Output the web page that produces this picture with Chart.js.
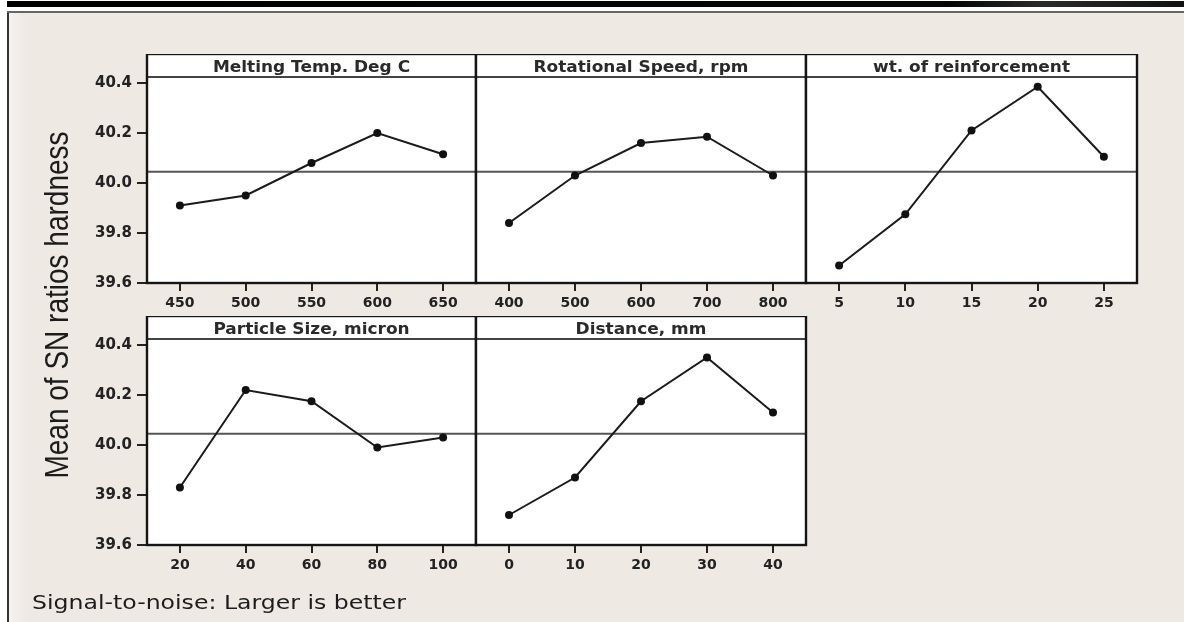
<!DOCTYPE html>
<html>
<head>
<meta charset="utf-8">
<script src="https://cdn.jsdelivr.net/npm/chart.js@4.4.1/dist/chart.umd.min.js"></script>
<style>
    html, body { margin: 0; padding: 0; background: #fff; }
    body { width: 1184px; height: 622px; position: relative; overflow: hidden; }
    canvas { position: absolute; }
</style>
</head>
<body>
<canvas id="back" width="1184" height="622" style="left:0;top:0"></canvas>
<canvas id="panel-0"></canvas>
<canvas id="panel-1"></canvas>
<canvas id="panel-2"></canvas>
<canvas id="panel-3"></canvas>
<canvas id="panel-4"></canvas>
<script>
// values (mean of SN ratios)
const panelTitles = ['Melting Temp. Deg C', 'Rotational Speed, rpm', 'wt. of reinforcement', 'Particle Size, micron', 'Distance, mm'];

const meltingTemp = ['450', '500', '550', '600', '650'];
const meltingTempSN = [39.91, 39.95, 40.08, 40.20, 40.115];

const rotSpeed = ['400', '500', '600', '700', '800'];
const rotSpeedSN = [39.84, 40.03, 40.16, 40.185, 40.03];

const reinforcement = ['5', '10', '15', '20', '25'];
const reinforcementSN = [39.67, 39.875, 40.21, 40.385, 40.105];

const particleSize = ['20', '40', '60', '80', '100'];
const particleSizeSN = [39.83, 40.22, 40.175, 39.99, 40.03];

const distance = ['0', '10', '20', '30', '40'];
const distanceSN = [39.72, 39.87, 40.175, 40.35, 40.13];

const yTicks = [39.6, 39.8, 40.0, 40.2, 40.4];
const grandMean = 40.045;

const yAxisTitle = 'Mean of SN ratios hardness';
const footNote = 'Signal-to-noise: Larger is better';

// layout
const colEdges = [147, 476, 806, 1137];
const rowTops = [54, 316];
const HEADER_H = 23, AREA_H = 206, XAXIS_H = 36, YAXIS_W = 67, PAD = 2;
const Y_MIN = 39.6, Y_MAX = 40.424;
const INK = '#222';

Chart.defaults.font.family = '"DejaVu Sans", sans-serif';

function draw_background() {
    const ctx = document.getElementById('back').getContext('2d');
    ctx.fillStyle = '#fff';
    ctx.fillRect(0, 0, 1184, 622);

    // black rule at the top
    let g = ctx.createLinearGradient(7, 0, 1184, 0);
    g.addColorStop(0, '#000');
    g.addColorStop(0.8, '#050505');
    g.addColorStop(0.88, '#2a2a2a');
    g.addColorStop(1, '#111');
    ctx.fillStyle = g;
    ctx.fillRect(7, 1, 1177, 6);

    // beige frame
    ctx.fillStyle = '#EFE9E3';
    ctx.fillRect(9, 13, 1175, 609);
    g = ctx.createLinearGradient(9, 0, 32, 0);
    g.addColorStop(0, '#F6F4F0');
    g.addColorStop(1, 'rgba(239,233,227,0)');
    ctx.fillStyle = g;
    ctx.fillRect(9, 13, 23, 609);

    ctx.fillStyle = '#333';
    ctx.fillRect(7, 11, 2, 611);
    ctx.fillStyle = '#666';
    ctx.fillRect(7, 11, 1177, 2);

    // y axis title
    ctx.save();
    ctx.fillStyle = '#1c1c1c';
    ctx.font = '28px "Liberation Sans Narrow", "Liberation Sans", sans-serif';
    ctx.textAlign = 'center';
    ctx.textBaseline = 'alphabetic';
    ctx.translate(68, 305);
    ctx.scale(1.18, 1);
    ctx.rotate(-Math.PI / 2);
    ctx.fillText(yAxisTitle, 0, 0);
    ctx.restore();

    // footnote
    ctx.save();
    ctx.fillStyle = '#1c1c1c';
    ctx.font = '20px "DejaVu Sans", sans-serif';
    ctx.textAlign = 'left';
    ctx.textBaseline = 'alphabetic';
    ctx.translate(32, 609);
    ctx.scale(1.18, 1);
    ctx.fillText(footNote, 0, 0);
    ctx.restore();
}

const panelFrame = {
    id: 'panelFrame',
    beforeDraw(chart) {
        const {ctx, chartArea: a} = chart;
        ctx.save();
        ctx.fillStyle = '#fff';
        ctx.fillRect(a.left, a.top - HEADER_H, a.right - a.left, a.bottom - a.top + HEADER_H);
        ctx.restore();
    },
    beforeDatasetsDraw(chart) {
        const {ctx, chartArea: a} = chart;
        const py = chart.scales.y.getPixelForValue(grandMean);
        ctx.save();
        ctx.strokeStyle = '#555';
        ctx.lineWidth = 2;
        ctx.beginPath();
        ctx.moveTo(a.left, py);
        ctx.lineTo(a.right, py);
        ctx.stroke();
        ctx.restore();
    },
    afterDraw(chart, args, opts) {
        const {ctx, chartArea: a} = chart;
        const top = a.top - HEADER_H;
        ctx.save();
        ctx.lineWidth = 2;
        ctx.strokeStyle = '#444';
        ctx.beginPath();
        ctx.moveTo(a.left, a.top);
        ctx.lineTo(a.right, a.top);
        ctx.stroke();
        ctx.lineWidth = 2.4;
        ctx.strokeStyle = '#151515';
        ctx.strokeRect(a.left, top, a.right - a.left, a.bottom - top);

        ctx.fillStyle = '#2a2a2a';
        ctx.font = 'bold 15px "DejaVu Sans", sans-serif';
        ctx.textAlign = 'center';
        ctx.textBaseline = 'alphabetic';
        ctx.translate((a.left + a.right) / 2, top + 18);
        ctx.scale(1.13, 1);
        ctx.fillText(opts.text, 0, 0);
        ctx.restore();
    }
};

function make_panel(idx, labels, values, row, col) {
    const canvas = document.getElementById('panel-' + idx);
    const showY = col === 0;
    const areaW = colEdges[col + 1] - colEdges[col];
    const left = colEdges[col] - PAD - (showY ? YAXIS_W : 0);
    const width = areaW + 2 * PAD + (showY ? YAXIS_W : 0);
    const height = HEADER_H + AREA_H + XAXIS_H;

    canvas.width = width;
    canvas.height = height;
    canvas.style.left = left + 'px';
    canvas.style.top = rowTops[row] + 'px';
    canvas.style.width = width + 'px';
    canvas.style.height = height + 'px';

    return new Chart(canvas, {
        type: 'line',
        data: {
            labels: labels,
            datasets: [{
                data: values,
                borderColor: '#1a1a1a',
                borderWidth: 2,
                pointRadius: 4,
                pointBackgroundColor: '#111',
                pointBorderWidth: 0,
                tension: 0
            }]
        },
        options: {
            responsive: false,
            animation: false,
            layout: {
                autoPadding: false,
                padding: {top: HEADER_H, left: PAD, right: PAD, bottom: 0}
            },
            plugins: {
                legend: {display: false},
                tooltip: {enabled: false},
                panelFrame: {text: panelTitles[idx]}
            },
            scales: {
                x: {
                    type: 'category',
                    offset: true,
                    afterFit: (s) => { s.height = XAXIS_H; },
                    border: {display: false},
                    grid: {
                        drawOnChartArea: false,
                        drawTicks: true,
                        tickLength: 8,
                        color: INK,
                        lineWidth: 2
                    },
                    ticks: {
                        color: INK,
                        padding: 4,
                        maxRotation: 0,
                        autoSkip: false,
                        font: {size: 14, weight: 'bold'}
                    }
                },
                y: {
                    type: 'linear',
                    display: showY,
                    min: Y_MIN,
                    max: Y_MAX,
                    afterBuildTicks: (s) => { s.ticks = yTicks.map((v) => ({value: v})); },
                    afterFit: (s) => { s.width = showY ? YAXIS_W : 0; },
                    border: {display: false},
                    grid: {
                        drawOnChartArea: false,
                        drawTicks: true,
                        tickLength: 10,
                        color: INK,
                        lineWidth: 2
                    },
                    ticks: {
                        color: INK,
                        padding: 5,
                        font: {size: 15, weight: 'bold'},
                        callback: (v) => Number(v).toFixed(1)
                    }
                }
            }
        },
        plugins: [panelFrame]
    });
}

draw_background();
make_panel(0, meltingTemp, meltingTempSN, 0, 0);
make_panel(1, rotSpeed, rotSpeedSN, 0, 1);
make_panel(2, reinforcement, reinforcementSN, 0, 2);
make_panel(3, particleSize, particleSizeSN, 1, 0);
make_panel(4, distance, distanceSN, 1, 1);
</script>
</body>
</html>
